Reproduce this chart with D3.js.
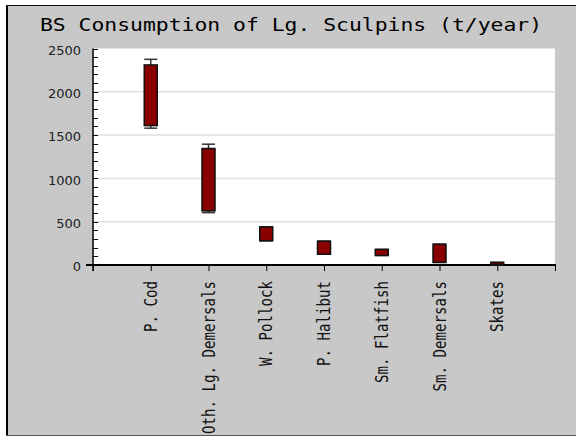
<!DOCTYPE html>
<html>
<head>
<meta charset="utf-8">
<script src="https://cdn.jsdelivr.net/npm/d3@7"></script>
<style>
  body { margin: 0; background: #fff; }
</style>
</head>
<body>
<div id="chart"></div>
<script>
// BS consumption of large sculpins, box per predator group
let categories = ["P. Cod", "Oth. Lg. Demersals", "W. Pollock", "P. Halibut", "Sm. Flatfish", "Sm. Demersals", "Skates"]
let whiskerHigh = [2375, 1395, 440, 275, 180, 240, 30]
let boxHigh = [2310, 1345, 440, 275, 180, 240, 30]
let boxLow = [1610, 625, 280, 125, 110, 30, 5]
let whiskerLow = [1580, 605, 280, 125, 110, 30, 5]
let yTicks = [0, 500, 1000, 1500, 2000, 2500]

function renderBoxChart(frame_id) {
    let width = 576
    let height = 436

    var svg = d3.select("#" + frame_id)
        .append("svg")
        .attr("width", width)
        .attr("height", height)
        .style("display", "block")

    // panel
    svg.append("rect").attr("x", 6).attr("y", 5).attr("width", width - 6).attr("height", height - 5).attr("fill", "#c8c8c8")
    svg.append("line").attr("x1", 7).attr("x2", 7).attr("y1", 5).attr("y2", height).attr("stroke", "#000").attr("stroke-width", 2)
    svg.append("line").attr("x1", 6).attr("x2", width).attr("y1", 5.5).attr("y2", 5.5).attr("stroke", "#111").attr("stroke-width", 1)
    svg.append("line").attr("x1", 6).attr("x2", width).attr("y1", 435.5).attr("y2", 435.5).attr("stroke", "#555").attr("stroke-width", 1)

    svg.append("text")
        .attr("x", 291)
        .attr("y", 31)
        .attr("text-anchor", "middle")
        .attr("textLength", 502)
        .attr("lengthAdjust", "spacingAndGlyphs")
        .style("font-family", "DejaVu Sans Mono")
        .style("font-size", "18px")
        .style("fill", "#000")
        .text("BS Consumption of Lg. Sculpins (t/year)")

    var x = d3.scaleLinear().domain([0, categories.length + 1]).range([93, 555])
    var y = d3.scaleLinear().domain([0, 2500]).range([265, 48.5])

    svg.append("rect")
        .attr("x", x(0)).attr("y", y(2500))
        .attr("width", x(categories.length + 1) - x(0))
        .attr("height", y(0) - y(2500))
        .attr("fill", "#fff")

    // grid
    svg.selectAll(".grid")
        .data(yTicks.filter(d => d > 0 && d < 2500))
        .enter()
        .append("line")
        .attr("class", "grid")
        .attr("x1", x(0)).attr("x2", x(categories.length + 1))
        .attr("y1", d => y(d)).attr("y2", d => y(d))
        .attr("stroke", "#e0e0e0")
        .attr("stroke-width", 1.5)

    // minor ticks, inside the plot
    svg.selectAll(".minor")
        .data(d3.range(0, 2501, 100))
        .enter()
        .append("line")
        .attr("class", "minor")
        .attr("x1", x(0)).attr("x2", x(0) + 5)
        .attr("y1", d => Math.round(y(d)) + 0.5).attr("y2", d => Math.round(y(d)) + 0.5)
        .attr("stroke", "#000")
        .attr("stroke-width", 1)

    var yAxis = svg.append("g")
        .attr("transform", "translate(" + x(0) + ",0)")
        .call(d3.axisLeft(y).tickValues(yTicks).tickSize(6).tickPadding(6).tickFormat(d3.format("d")))
    yAxis.select(".domain").attr("d", "M0," + y(2500) + "V271").attr("stroke", "#000").attr("stroke-width", 1.5)
    yAxis.selectAll("line").attr("stroke", d => d == 0 ? "#000" : "none")
    yAxis.selectAll("text")
        .attr("dy", "0.45em")
        .style("font-family", "DejaVu Sans")
        .style("font-size", "13px")
        .style("fill", "#222")

    // x axis
    var xAxis = svg.append("g")
        .attr("transform", "translate(0," + y(0) + ")")
        .call(d3.axisBottom(x).tickValues(d3.range(0, categories.length + 2)).tickSize(6).tickFormat(""))
    xAxis.select(".domain").attr("d", "M86,0H556").attr("stroke", "#000").attr("stroke-width", 2)
    xAxis.selectAll("line").attr("stroke", "#000")

    svg.selectAll(".xlabel")
        .data(categories)
        .enter()
        .append("text")
        .attr("class", "xlabel")
        .attr("transform", (d, i) => "translate(" + (x(i + 1) + 6) + ",281) rotate(-90)")
        .attr("text-anchor", "end")
        .attr("textLength", d => d.length * 8.5)
        .attr("lengthAdjust", "spacingAndGlyphs")
        .style("font-family", "DejaVu Sans Mono")
        .style("font-size", "17px")
        .style("fill", "#111")
        .text(d => d)

    let boxW = 13
    var groups = svg.selectAll(".box")
        .data(categories)
        .enter()
        .append("g")
        .attr("class", "box")

    // whiskers
    groups.append("line")
        .attr("x1", (d, i) => x(i + 1)).attr("x2", (d, i) => x(i + 1))
        .attr("y1", (d, i) => y(whiskerHigh[i])).attr("y2", (d, i) => y(boxHigh[i]))
        .attr("stroke", "#333").attr("stroke-width", 1.5)
    groups.append("line")
        .attr("x1", (d, i) => x(i + 1)).attr("x2", (d, i) => x(i + 1))
        .attr("y1", (d, i) => y(whiskerLow[i])).attr("y2", (d, i) => y(boxLow[i]))
        .attr("stroke", "#333").attr("stroke-width", 1.5)
    groups.append("line")
        .attr("x1", (d, i) => x(i + 1) - boxW / 2).attr("x2", (d, i) => x(i + 1) + boxW / 2)
        .attr("y1", (d, i) => y(whiskerHigh[i])).attr("y2", (d, i) => y(whiskerHigh[i]))
        .attr("stroke", "#333").attr("stroke-width", 1.5)
    groups.append("line")
        .attr("x1", (d, i) => x(i + 1) - boxW / 2).attr("x2", (d, i) => x(i + 1) + boxW / 2)
        .attr("y1", (d, i) => y(whiskerLow[i])).attr("y2", (d, i) => y(whiskerLow[i]))
        .attr("stroke", "#333").attr("stroke-width", 1.5)

    groups.append("rect")
        .attr("x", (d, i) => x(i + 1) - boxW / 2)
        .attr("y", (d, i) => y(boxHigh[i]))
        .attr("width", boxW)
        .attr("height", (d, i) => y(boxLow[i]) - y(boxHigh[i]))
        .attr("fill", "#880000")
        .attr("stroke", "#111")
        .style("stroke-width", "1.5px")
}

renderBoxChart("chart")
</script>
</body>
</html>
